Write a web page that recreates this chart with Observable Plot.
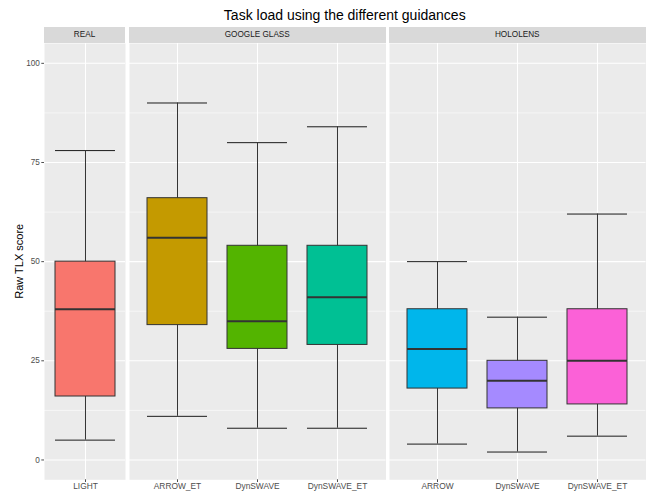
<!DOCTYPE html>
<html>
<head>
<meta charset="utf-8">
<script src="https://cdn.jsdelivr.net/npm/d3@7"></script>
<script src="https://cdn.jsdelivr.net/npm/@observablehq/plot@0.6"></script>
<style>
  body { margin: 0; background: white; }
  #wrap { position: relative; width: 647px; height: 498px; font-family: "Liberation Sans", Arial, sans-serif; overflow: hidden; }
  .abs { position: absolute; }
  .strip { position: absolute; background: #D9D9D9; color: #1A1A1A; font-size: 8.2px; text-align: center; }
</style>
</head>
<body>
<div id="wrap"></div>
<script>
// ---- data ----
const title = "Task load using the different guidances";
const yLabel = "Raw TLX score";
const panelNames = ["REAL", "GOOGLE GLASS", "HOLOLENS"];
const categories = ["LIGHT", "ARROW_ET", "DynSWAVE", "DynSWAVE_ET", "ARROW", "DynSWAVE", "DynSWAVE_ET"];
const panelOf = ["REAL", "GOOGLE GLASS", "GOOGLE GLASS", "GOOGLE GLASS", "HOLOLENS", "HOLOLENS", "HOLOLENS"];
const whiskerLow = [5, 11, 8, 8, 4, 2, 6];
const q1 = [16, 34, 28, 29, 18, 13, 14];
const median = [38, 56, 35, 41, 28, 20, 25];
const q3 = [50, 66, 54, 54, 38, 25, 38];
const whiskerHigh = [78, 90, 80, 84, 50, 36, 62];
const colors = ["#F8766D", "#C49A00", "#53B400", "#00C094", "#00B6EB", "#A58AFF", "#FB61D7"];
const yTicks = [0, 25, 50, 75, 100];
const yMinor = [12.5, 37.5, 62.5, 87.5];

const rows = categories.map((c, i) => ({
  cat: c, panel: panelOf[i], lo: whiskerLow[i], q1: q1[i], med: median[i], q3: q3[i], hi: whiskerHigh[i], color: colors[i]
}));

// ---- layout ----
const wrap = document.getElementById("wrap");
const panelTop = 43, panelH = 436.3, marginBottom = 19;
const panelBoxes = [
  {name: panelNames[0], left: 44, width: 81, marginLeft: 44},
  {name: panelNames[1], left: 129, width: 256.5, marginLeft: 0},
  {name: panelNames[2], left: 389, width: 256.5, marginLeft: 0}
];
const unit = 256.5 / 3.2;

// title
const t = document.createElement("div");
t.className = "abs";
t.textContent = title;
Object.assign(t.style, {left: "44px", width: (645.5 - 44) + "px", top: "7.9px", lineHeight: "15px", fontSize: "14px", textAlign: "center", color: "black"});
wrap.appendChild(t);

// y label
const yl = document.createElement("div");
yl.className = "abs";
yl.textContent = yLabel;
Object.assign(yl.style, {left: (19.2 - 150) + "px", top: (261 - 6.3) + "px", width: "300px", height: "12.6px", lineHeight: "12.6px", fontSize: "11px", textAlign: "center", color: "black", transform: "rotate(-90deg)"});
wrap.appendChild(yl);

panelBoxes.forEach((p, k) => {
  const data = rows.filter(r => r.panel === p.name);
  const cats = data.map(r => r.cat);
  const po = (p.width / unit - (cats.length - 0.25)) / 2;

  // strip
  const s = document.createElement("div");
  s.className = "strip";
  s.textContent = p.name;
  Object.assign(s.style, {left: p.left + "px", width: p.width + "px", top: "27.3px", height: "15.4px", lineHeight: "15.4px"});
  wrap.appendChild(s);

  const chart = Plot.plot({
    width: p.width + p.marginLeft,
    height: panelH + marginBottom,
    marginTop: 0, marginBottom, marginLeft: p.marginLeft, marginRight: 0,
    style: {fontFamily: "'Liberation Sans', Arial, sans-serif", fontSize: "8.4px", background: "transparent", overflow: "visible"},
    x: {type: "band", domain: cats, paddingInner: 0.25, paddingOuter: po, label: null},
    y: {domain: [-5, 105], label: null, axis: null},
    color: {type: "identity"},
    marks: [
      Plot.frame({fill: "#EBEBEB", stroke: null}),
      Plot.ruleY(yMinor, {stroke: "white", strokeWidth: 0.55}),
      Plot.ruleY(yTicks, {stroke: "white", strokeWidth: 1.07}),
      Plot.gridX({stroke: "white", strokeOpacity: 1, strokeWidth: 1.07}),
      Plot.tickY(data, {x: "cat", y: "lo", stroke: "#1A1A1A", strokeWidth: 1}),
      Plot.tickY(data, {x: "cat", y: "hi", stroke: "#1A1A1A", strokeWidth: 1}),
      Plot.ruleX(data, {x: "cat", y1: "lo", y2: "hi", stroke: "#333333", strokeWidth: 1}),
      Plot.barY(data, {x: "cat", y1: "q1", y2: "q3", fill: "color", stroke: "#333333", strokeWidth: 1}),
      Plot.tickY(data, {x: "cat", y: "med", stroke: "#333333", strokeWidth: 2}),
      Plot.axisX({tickSize: 2.7, tickPadding: 1, color: "#4D4D4D", label: null}),
      k === 0 ? Plot.axisY({ticks: yTicks, tickSize: 2.7, tickPadding: 2, color: "#4D4D4D", fontSize: "8.2px", label: null}) : null
    ]
  });
  chart.style.position = "absolute";
  chart.style.left = (p.left - p.marginLeft) + "px";
  chart.style.top = panelTop + "px";
  wrap.appendChild(chart);
});
</script>
</body>
</html>
